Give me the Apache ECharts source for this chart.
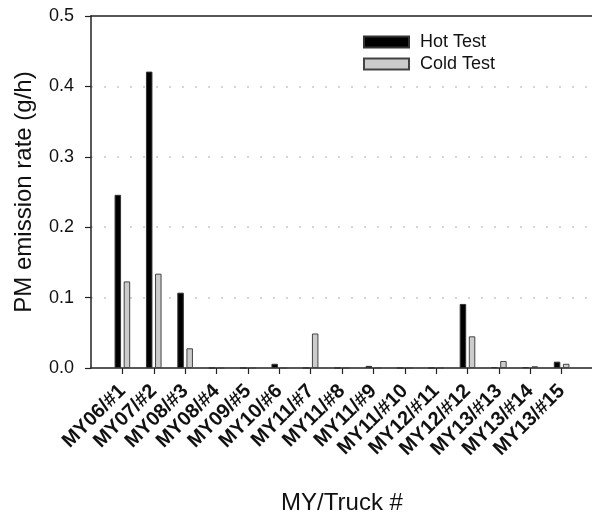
<!DOCTYPE html>
<html>
<head>
<meta charset="utf-8">
<script src="https://cdn.jsdelivr.net/npm/echarts@6/dist/echarts.min.js"></script>
<style>
html,body{margin:0;padding:0;background:#fff;}
#chart{width:592px;height:516px;}
</style>
</head>
<body>
<div id="chart"></div>
<script>
const categories = ['MY06/#1','MY07/#2','MY08/#3','MY08/#4','MY09/#5','MY10/#6','MY11/#7','MY11/#8','MY11/#9','MY11/#10','MY12/#11','MY12/#12','MY13/#13','MY13/#14','MY13/#15'];
const hotTest = [0.246, 0.421, 0.107, 0, 0, 0.006, 0, 0, 0.003, 0, 0, 0.091, 0.001, 0.001, 0.009];
const coldTest = [0.123, 0.134, 0.028, 0, 0, 0, 0.049, 0, 0, 0, 0, 0.045, 0.010, 0.0025, 0.006];
const yTicks = [0, 0.1, 0.2, 0.3, 0.4, 0.5];

const font = '"Liberation Sans", Arial, sans-serif';
const chart = echarts.init(document.getElementById('chart'), null, {renderer: 'canvas'});
const n = categories.length;
const padded = [''].concat(categories, ['']);
chart.setOption({
  animation: false,
  backgroundColor: '#fff',
  textStyle: {fontFamily: font, color: '#111'},
  grid: {left: 91, top: 16, right: -1, bottom: 148, show: false, outerBoundsMode: 'none', containLabel: false},
  legend: {
    orient: 'vertical', left: 358, top: 28, itemWidth: 45, itemHeight: 11, itemGap: 4,
    icon: 'rect',
    textStyle: {fontSize: 18, fontFamily: font, color: '#111', padding: [0, 0, 0, 6]},
    data: ['Hot Test', 'Cold Test']
  },
  xAxis: [{
    type: 'category',
    boundaryGap: false,
    data: padded,
    name: 'MY/Truck #',
    nameLocation: 'middle',
    nameGap: 123,
    nameTextStyle: {fontSize: 24, fontFamily: font, color: '#111'},
    axisLine: {lineStyle: {color: '#222', width: 1.5}},
    axisTick: {show: true, length: 6, interval: (i) => i > 0 && i <= n, lineStyle: {color: '#222', width: 1.2}},
    axisLabel: {interval: 0, rotate: 45, fontSize: 20, fontWeight: 'bold', fontFamily: font, color: '#111', margin: 20},
    splitLine: {show: false}
  }, {
    type: 'category',
    boundaryGap: false,
    position: 'top',
    data: padded,
    axisLine: {show: true, lineStyle: {color: '#222', width: 1.5}},
    axisTick: {show: false},
    axisLabel: {show: false},
    splitLine: {show: false}
  }],
  yAxis: {
    type: 'value',
    min: yTicks[0], max: yTicks[yTicks.length - 1], interval: 0.1,
    name: 'PM emission rate (g/h)',
    nameLocation: 'middle',
    nameGap: 55,
    nameTextStyle: {fontSize: 24, fontFamily: font, color: '#111'},
    axisLine: {show: true, lineStyle: {color: '#222', width: 1.5}},
    axisTick: {show: true, length: 6, lineStyle: {color: '#222', width: 1.2}},
    axisLabel: {fontSize: 18, fontFamily: font, color: '#111', margin: 17, formatter: (v) => v.toFixed(1)},
    splitLine: {show: true, showMinLine: false, showMaxLine: false, lineStyle: {color: '#c8c8c8', width: 1.5, type: [2, 11]}}
  },
  series: [
    {
      name: 'Hot Test', type: 'bar', barWidth: 6.5, barGap: '40%',
      itemStyle: {color: '#000', borderColor: '#333', borderWidth: 1},
      data: [null].concat(hotTest, [null])
    },
    {
      name: 'Cold Test', type: 'bar', barWidth: 6.5,
      itemStyle: {color: '#cccccc', borderColor: '#444', borderWidth: 1},
      data: [null].concat(coldTest, [null])
    }
  ]
});
</script>
</body>
</html>
